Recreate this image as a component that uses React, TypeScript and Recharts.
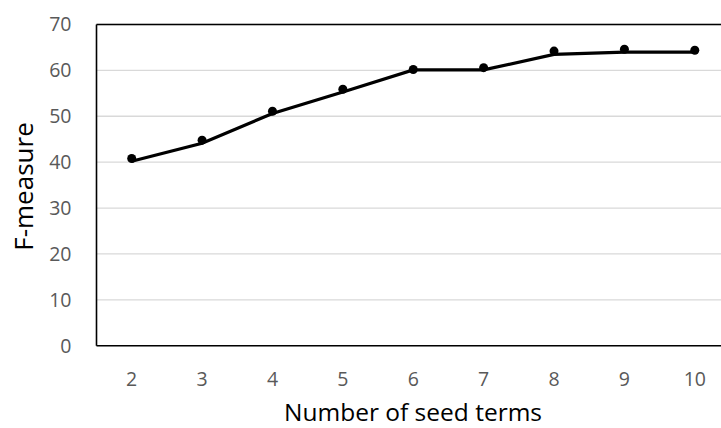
import React from "react";
import { LineChart, Line, XAxis, YAxis, CartesianGrid, ReferenceLine, Label } from "recharts";

const seedTerms = ["2", "3", "4", "5", "6", "7", "8", "9", "10"];
const lineValues = [40.2, 44.1, 50.6, 55.3, 60.1, 60.1, 63.5, 64.0, 64.0];
const markerValues = [40.8, 44.8, 51.1, 55.9, 60.2, 60.6, 64.2, 64.6, 64.4];
const yTicks = [0, 10, 20, 30, 40, 50, 60, 70];

const data = seedTerms.map((t, i) => ({ terms: t, line: lineValues[i], marker: markerValues[i] }));

const FONT = "'Open Sans', sans-serif";

export default function App() {
  return (
    <div style={{ position: "fixed", left: 0, top: 0, width: 721, height: 428, overflow: "hidden", background: "#fff" }}>
      <LineChart width={760} height={428} data={data} margin={{ top: 24.5, right: 30, bottom: 0, left: 0 }}>
        <CartesianGrid vertical={false} stroke="#d9d9d9" strokeWidth={1.3} />
        <XAxis
          dataKey="terms"
          height={82.3}
          padding={{ left: 35.2, right: 35.2 }}
          axisLine={{ stroke: "#000", strokeWidth: 1.6 }}
          tickLine={false}
          tickSize={0}
          tickMargin={26}
          tick={{ fill: "#595959", fontSize: 19.5, fontFamily: FONT }}
        >
          <Label
            content={() => (
              <text x={413} y={420.5} textAnchor="middle" fill="#000" fontSize={24.5} fontFamily={FONT}>
                Number of seed terms
              </text>
            )}
          />
        </XAxis>
        <YAxis
          width={96.5}
          domain={[0, 70]}
          ticks={yTicks}
          interval={0}
          axisLine={{ stroke: "#000", strokeWidth: 1.6 }}
          tickLine={false}
          tickSize={0}
          tickMargin={25}
          tick={{ fill: "#595959", fontSize: 19.5, fontFamily: FONT }}
        >
          <Label
            content={() => (
              <text
                x={33}
                y={186.5}
                transform="rotate(-90, 33, 186.5)"
                textAnchor="middle"
                fill="#000"
                fontSize={26}
                fontFamily={FONT}
              >
                F-measure
              </text>
            )}
          />
        </YAxis>
        <ReferenceLine y={70} stroke="#000" strokeWidth={1.6} />
        <Line
          dataKey="line"
          stroke="#000"
          strokeWidth={3.2}
          dot={false}
          activeDot={false}
          isAnimationActive={false}
        />
        <Line
          dataKey="marker"
          stroke="none"
          strokeWidth={0}
          dot={{ r: 4.5, fill: "#000", stroke: "none" }}
          activeDot={false}
          isAnimationActive={false}
        />
      </LineChart>
    </div>
  );
}
